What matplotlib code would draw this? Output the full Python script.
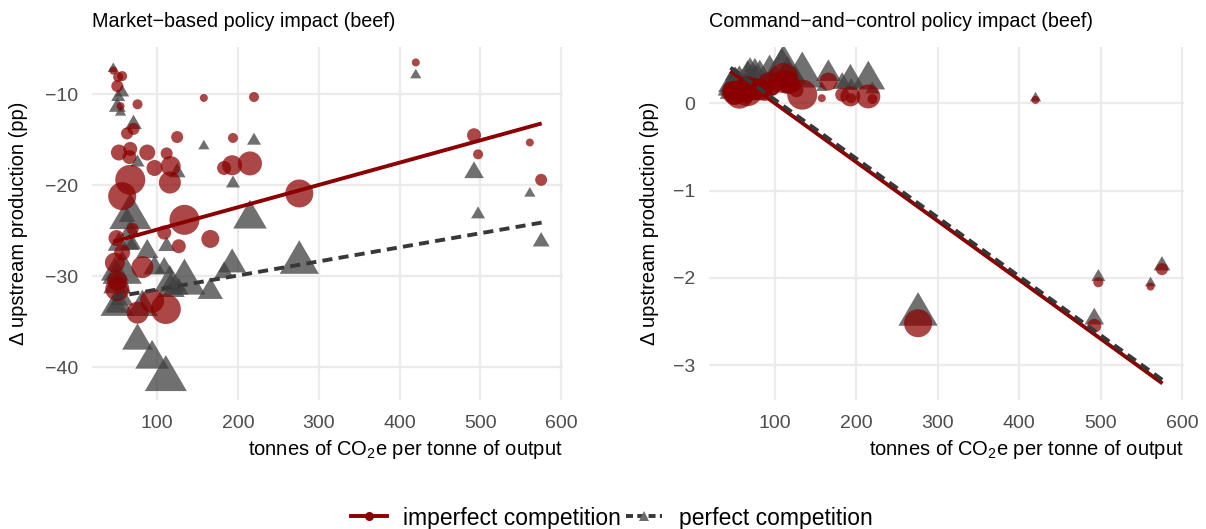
import numpy as np
import matplotlib
matplotlib.use('Agg')
import matplotlib.pyplot as plt
from matplotlib.lines import Line2D

plt.rcParams['font.family'] = ['Liberation Sans', 'DejaVu Sans']
plt.rcParams['mathtext.default'] = 'regular'

# emissions intensity per producer (t CO2e / t output)
co2_intensity = [46, 57, 52, 51, 55, 76, 71, 63, 125, 158, 220, 194, 53, 67, 88,
                 66, 112, 97, 117, 183, 193, 215, 67, 116, 57, 134, 166, 127, 109, 70,
                 50, 57, 48, 82, 51, 51, 76, 111, 94, 276, 492, 497, 561, 575, 420]
# output weight (controls point size)
output_kt = [160, 250, 250, 360, 160, 250, 360, 360, 360, 160, 250, 250, 640, 490, 640,
             490, 360, 640, 1000, 490, 1000, 1440, 2250, 1210, 1960, 2250, 810, 490, 490, 360,
             640, 640, 1000, 1210, 1000, 1440, 1210, 2250, 1440, 1960, 490, 250, 160, 360, 160]

# market-based policy, change in upstream production (pp)
mkt_imperfect = [-7.4, -8.0, -8.1, -9.1, -11.3, -11.1, -13.8, -14.3, -14.7, -10.4, -10.3, -14.8, -16.4, -16.0, -16.4,
                 -16.9, -16.5, -18.1, -17.9, -18.1, -17.8, -17.6, -19.4, -19.7, -21.2, -23.8, -25.9, -26.7, -25.2, -24.8,
                 -25.8, -27.4, -28.5, -29.0, -30.5, -31.4, -34.0, -33.6, -32.7, -20.9, -14.5, -16.6, -15.3, -19.4, -6.5]
mkt_perfect = [-7.2, -9.8, -10.3, -11.4, -12.0, -17.5, -13.3, -23.5, -18.6, -15.7, -15.1, -19.8, -26.5, -25.0, -27.3,
               -26.5, -26.7, -29.1, -31.4, -29.6, -28.7, -23.7, -23.5, -30.7, -29.6, -30.7, -31.7, -31.4, -29.1, -26.5,
               -33.3, -32.5, -29.6, -33.4, -31.0, -33.3, -37.1, -41.3, -39.1, -28.5, -18.6, -23.2, -20.9, -26.2, -7.9]

# command-and-control policy, change in upstream production (pp)
cac_imperfect = [0.18, 0.15, 0.20, 0.12, 0.10, 0.22, 0.18, 0.10, 0.20, 0.06, 0.05, 0.06, 0.16, 0.20, 0.12,
                 0.08, 0.24, 0.18, 0.22, 0.10, 0.08, 0.08, 0.14, 0.25, 0.10, 0.10, 0.25, 0.15, 0.30, 0.20,
                 0.16, 0.12, 0.14, 0.16, 0.10, 0.12, 0.16, 0.29, 0.22, -2.52, -2.55, -2.05, -2.10, -1.90, 0.04]
cac_perfect = [0.30, 0.28, 0.33, 0.25, 0.22, 0.36, 0.30, 0.24, 0.32, 0.18, 0.16, 0.20, 0.26, 0.30, 0.22,
               0.18, 0.38, 0.28, 0.30, 0.23, 0.27, 0.27, 0.22, 0.34, 0.18, 0.32, 0.34, 0.28, 0.51, 0.42,
               0.26, 0.22, 0.22, 0.30, 0.18, 0.20, 0.32, 0.40, 0.34, -2.42, -2.47, -1.99, -2.06, -1.86, 0.06]

# weighted linear fits, evaluated at the ends of the x range
fit_x = [46, 575.6]
mkt_fit_imperfect = [-26.2, -13.2]
mkt_fit_perfect = [-32.3, -24.1]
cac_fit_imperfect = [0.37, -3.21]
cac_fit_perfect = [0.41, -3.17]

RED = '#8B0000'
GREY = '#404040'
TRI = [(-0.7, -0.4), (0.7, -0.4), (0, 0.8)]


def draw_panel(ax, title, y_imp, y_perf, fit_imp, fit_perf, yticks, ylim, ylab_x):
    area = np.array(output_kt) * 0.2073
    ax.scatter(co2_intensity, y_perf, s=area * 2.56, marker=TRI, color=GREY, alpha=0.75, linewidths=0)
    ax.scatter(co2_intensity, y_imp, s=area, marker='o', color=RED, alpha=0.72, linewidths=0)
    ax.plot(fit_x, fit_imp, color=RED, lw=2.8, solid_capstyle='butt')
    ax.plot(fit_x, fit_perf, color='#383838', lw=2.8, dashes=(2.6, 1.6))

    ax.set_xlim(19.7, 602)
    ax.set_ylim(*ylim)
    ax.set_xticks([100, 200, 300, 400, 500, 600])
    ax.set_yticks(yticks)
    ax.grid(True, color='#EBEBEB', lw=1.6)
    ax.set_axisbelow(True)
    for s in ax.spines.values():
        s.set_visible(False)
    ax.tick_params(length=0, labelsize=14, labelcolor='#4D4D4D', pad=10)
    ax.tick_params(axis='x', pad=11)
    ax.set_title(title, loc='left', fontsize=14.2, pad=14)
    ax.set_xlabel(r'tonnes of CO$_2$e per tonne of output', loc='right', fontsize=14.5, labelpad=4)
    ax.set_ylabel('\u0394 upstream production (pp)', fontsize=14.5)
    ax.yaxis.set_label_coords(ylab_x, 0.5)


fig = plt.figure(figsize=(12.06, 5.29), dpi=100)
bottom = (529 - 400) / 529
height = 353.3 / 529
ax1 = fig.add_axes([92 / 1206, bottom, 471 / 1206, height])
ax2 = fig.add_axes([709 / 1206, bottom, 475 / 1206, height])

draw_panel(ax1, 'Market\u2212based policy impact (beef)', mkt_imperfect, mkt_perfect,
           mkt_fit_imperfect, mkt_fit_perfect, [-40, -30, -20, -10], (-43.6, -4.77), -0.136)
draw_panel(ax2, 'Command\u2212and\u2212control policy impact (beef)', cac_imperfect, cac_perfect,
           cac_fit_imperfect, cac_fit_perfect, [-3, -2, -1, 0], (-3.40, 0.65), -0.105)

handles = [
    Line2D([], [], color=RED, lw=2.8, marker='o', markersize=6.5, markeredgewidth=0),
    Line2D([], [], color='#383838', lw=2.8, dashes=(1.8, 1.1), marker='^', markersize=7.5,
           markerfacecolor='#6b6b6b', markeredgewidth=0),
]
fig.legend(handles, ['imperfect competition', 'perfect competition'], loc='center',
           bbox_to_anchor=(0.507, 1 - 518 / 529), ncol=2, frameon=False, fontsize=16.5,
           handlelength=1.6, handletextpad=0.7, columnspacing=0.2)

fig.savefig('out.png', dpi=100)
